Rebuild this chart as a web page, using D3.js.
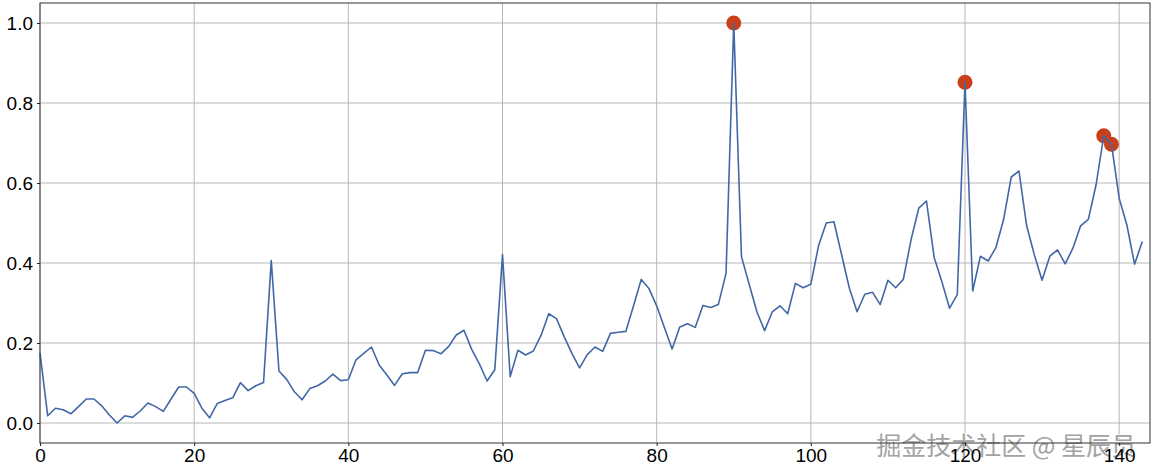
<!DOCTYPE html>
<html>
<head>
<meta charset="utf-8">
<script src="https://cdn.jsdelivr.net/npm/d3@7"></script>
<style>
  body { margin: 0; background: #fff; }
  svg { display: block; font-family: "Liberation Sans", "DejaVu Sans", sans-serif; }
</style>
</head>
<body>
<div id="chart"></div>
<script>
// normalised series, one value per step (0..143)
var values = [
  0.175, 0.018, 0.037, 0.033, 0.023, 0.041, 0.060, 0.060, 0.043, 0.020,
  0.000, 0.018, 0.014, 0.030, 0.050, 0.041, 0.029, 0.060, 0.090, 0.090,
  0.074, 0.037, 0.013, 0.049, 0.056, 0.063, 0.101, 0.081, 0.093, 0.101,
  0.406, 0.130, 0.109, 0.078, 0.058, 0.086, 0.093, 0.105, 0.122, 0.106,
  0.108, 0.158, 0.174, 0.190, 0.145, 0.120, 0.094, 0.123, 0.126, 0.126,
  0.182, 0.181, 0.173, 0.191, 0.220, 0.232, 0.184, 0.148, 0.105, 0.133,
  0.421, 0.116, 0.182, 0.170, 0.180, 0.219, 0.273, 0.261, 0.216, 0.174,
  0.138, 0.171, 0.190, 0.179, 0.224, 0.227, 0.229, 0.293, 0.359, 0.336,
  0.293, 0.239, 0.185, 0.240, 0.248, 0.239, 0.294, 0.289, 0.296, 0.374,
  1.000, 0.416, 0.347, 0.278, 0.231, 0.278, 0.293, 0.273, 0.349, 0.338,
  0.347, 0.443, 0.500, 0.503, 0.420, 0.337, 0.278, 0.322, 0.327, 0.296,
  0.357, 0.338, 0.359, 0.458, 0.537, 0.555, 0.414, 0.353, 0.287, 0.321,
  0.852, 0.330, 0.417, 0.405, 0.438, 0.508, 0.615, 0.630, 0.493, 0.420,
  0.357, 0.417, 0.433, 0.398, 0.437, 0.493, 0.509, 0.595, 0.718, 0.697,
  0.562, 0.495, 0.397, 0.454
];
// flagged points (indices into values)
var anomalies = [90, 120, 138, 139];
var xTicks = [0, 20, 40, 60, 80, 100, 120, 140];
var yTicks = [0.0, 0.2, 0.4, 0.6, 0.8, 1.0];

var W = 1153, H = 476;
var plotL = 40, plotR = 1150, plotT = 3, plotB = 443;

var svg = d3.select("#chart").append("svg")
    .attr("width", W).attr("height", H);

var x = d3.scaleLinear().domain([0, 144]).range([plotL, plotR]);
var y = d3.scaleLinear().domain([-0.05, 1.05]).range([plotB, plotT]);

// grid
svg.append("g").selectAll("line").data(xTicks).enter().append("line")
    .attr("x1", function(d) { return x(d); }).attr("x2", function(d) { return x(d); })
    .attr("y1", plotT).attr("y2", plotB)
    .attr("stroke", "#b0b0b0").attr("stroke-width", 0.9);
svg.append("g").selectAll("line").data(yTicks).enter().append("line")
    .attr("x1", plotL).attr("x2", plotR)
    .attr("y1", function(d) { return y(d); }).attr("y2", function(d) { return y(d); })
    .attr("stroke", "#b0b0b0").attr("stroke-width", 0.9);

// red markers go under the line
svg.append("g").selectAll("circle").data(anomalies).enter().append("circle")
    .attr("cx", function(i) { return x(i); })
    .attr("cy", function(i) { return y(values[i]); })
    .attr("r", 7.5)
    .attr("fill", "#c8401b");

var line = d3.line()
    .x(function(d, i) { return x(i); })
    .y(function(d) { return y(d); });

svg.append("path").datum(values)
    .attr("d", line)
    .attr("fill", "none")
    .attr("stroke", "#4168a6")
    .attr("stroke-width", 1.6)
    .attr("stroke-linejoin", "round");

// watermark (sits under the axis labels)
svg.append("text")
    .attr("x", 1136).attr("y", 455)
    .attr("text-anchor", "end")
    .style("font-family", "'Noto Sans CJK SC', sans-serif")
    .style("font-size", "25px")
    .attr("fill", "#a3a3a3")
    .attr("stroke", "#ffffff").attr("stroke-width", 1.5)
    .attr("paint-order", "stroke")
    .text("掘金技术社区 @ 星辰员");

// frame
svg.append("rect")
    .attr("x", plotL).attr("y", plotT).attr("width", plotR - plotL).attr("height", plotB - plotT)
    .attr("fill", "none").attr("stroke", "#333").attr("stroke-width", 1);

// axes
var xAxis = svg.append("g").attr("transform", "translate(0," + plotB + ")")
    .call(d3.axisBottom(x).tickValues(xTicks).tickFormat(d3.format("d")).tickSize(3).tickPadding(3));
var yAxis = svg.append("g").attr("transform", "translate(" + plotL + ",0)")
    .call(d3.axisLeft(y).tickValues(yTicks).tickFormat(d3.format(".1f")).tickSize(3).tickPadding(4));
[xAxis, yAxis].forEach(function(a) {
  a.select(".domain").remove();
  a.selectAll("line").attr("stroke", "#222");
  a.selectAll("text").attr("fill", "#000").style("font-size", "19px")
    .style("font-family", "'Liberation Sans', 'DejaVu Sans', sans-serif");
});
</script>
</body>
</html>
